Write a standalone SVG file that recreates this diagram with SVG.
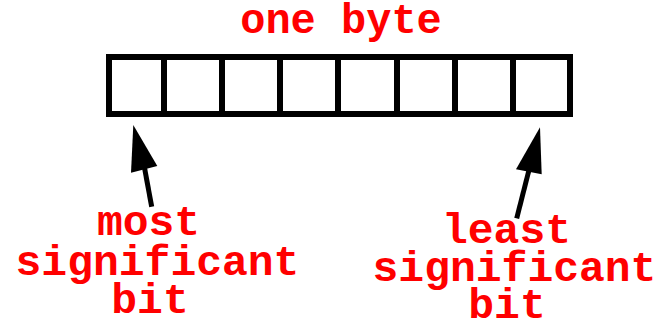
<svg xmlns="http://www.w3.org/2000/svg" width="672" height="325" viewBox="0 0 672 325">
  <style>
    .lbl { font-family: "Liberation Mono", "Courier New", monospace; font-weight: bold; fill: #ff0000; font-size: 43px; text-anchor: middle; }
    .cell { fill: #ffffff; stroke: #000000; stroke-width: 6; }
    .shaft { stroke: #000000; stroke-width: 5; fill: none; }
    .head { fill: #000000; }
  </style>
  <rect width="672" height="325" fill="#ffffff"/>

  <g id="title">
    <text class="lbl" x="341" y="33" style="font-size:42px">one byte</text>
  </g>

  <g id="byte">
    <rect class="cell" x="109" y="57" width="461" height="57"/>
    <path class="cell" d="M164 57V114M222 57V114M280 57V114M338 57V114M397 57V114M455 57V114M513 57V114"/>
  </g>

  <g id="msb-label">
    <text class="lbl" x="148.5" y="235">most</text>
    <text class="lbl" x="157.5" y="275">significant</text>
    <text class="lbl" x="150" y="313">bit</text>
  </g>

  <g id="lsb-label">
    <text class="lbl" x="506.5" y="243">least</text>
    <text class="lbl" x="514.5" y="281">significant</text>
    <text class="lbl" x="507" y="318">bit</text>
  </g>

  <g id="connectors">
    <line class="shaft" x1="151.7" y1="206.7" x2="144" y2="165"/>
    <polygon class="head" points="133.3,125 157.3,166 131,172.7"/>
    <line class="shaft" x1="516.7" y1="218.3" x2="529" y2="170"/>
    <polygon class="head" points="540,127.3 541.7,174.3 516,169.3"/>
  </g>
</svg>
